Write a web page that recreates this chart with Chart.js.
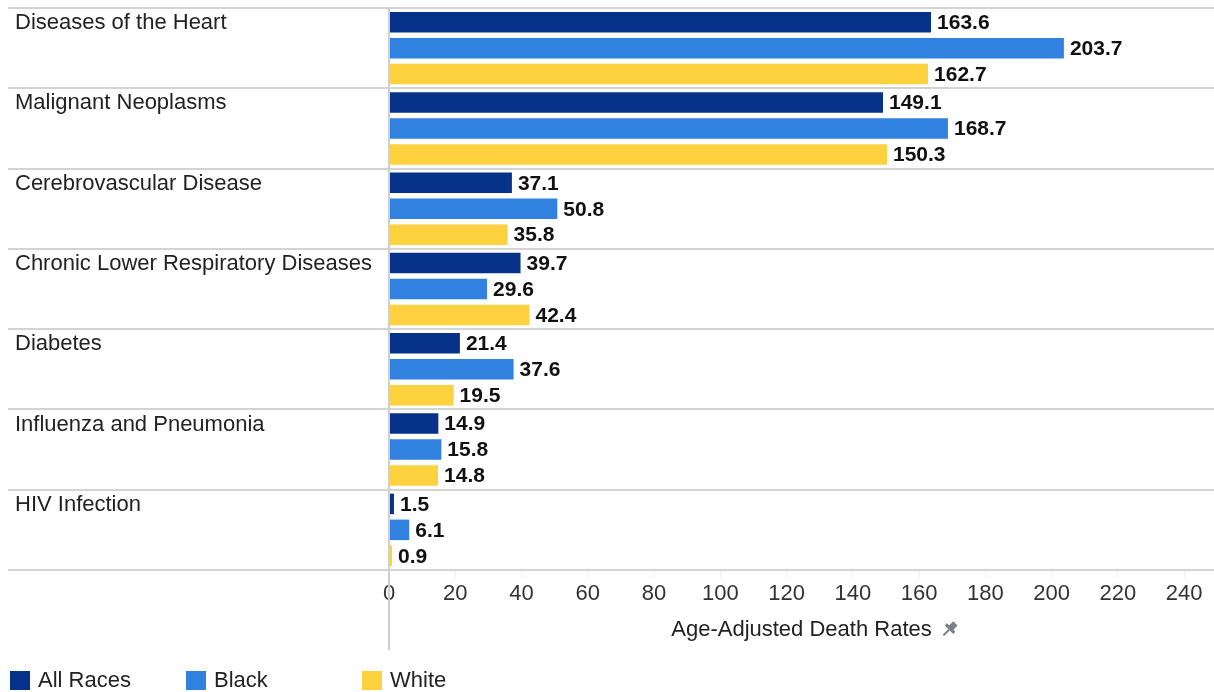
<!DOCTYPE html>
<html>
<head>
<meta charset="utf-8">
<script src="https://cdn.jsdelivr.net/npm/chart.js@4.4.0/dist/chart.umd.min.js"></script>
<style>
  html, body { margin: 0; padding: 0; background: #fff; }
  #wrap { position: relative; width: 1214px; height: 692px; }
  #legend {
    position: absolute; left: 10px; top: 667px;
    display: flex; font: 22px "Liberation Sans", Arial, sans-serif; color: #222;
  }
  .item { display: flex; align-items: center; }
  .swatch { width: 20px; height: 19px; margin-right: 8px; }
</style>
</head>
<body>
<div id="wrap">
  <canvas id="chart" width="1214" height="692"></canvas>
  <div id="legend"></div>
</div>
<script>
// categories and series
const causes = [
  "Diseases of the Heart",
  "Malignant Neoplasms",
  "Cerebrovascular Disease",
  "Chronic Lower Respiratory Diseases",
  "Diabetes",
  "Influenza and Pneumonia",
  "HIV Infection"
];
const allRaces = [163.6, 149.1, 37.1, 39.7, 21.4, 14.9, 1.5];
const black = [203.7, 168.7, 50.8, 29.6, 37.6, 15.8, 6.1];
const white = [162.7, 150.3, 35.8, 42.4, 19.5, 14.8, 0.9];
const seriesNames = ["All Races", "Black", "White"];
const seriesColors = ["#063289", "#3182e0", "#fdd23e"];
const xTickStep = 20;
const xMax = 249;
const axisTitle = "Age-Adjusted Death Rates";

const FONT = '"Liberation Sans", Arial, sans-serif';

// value labels to the right of each bar
const valueLabels = {
  id: "valueLabels",
  afterDatasetsDraw(chart) {
    const ctx = chart.ctx;
    ctx.save();
    ctx.font = "bold 21px " + FONT;
    ctx.fillStyle = "#111";
    ctx.textAlign = "left";
    ctx.textBaseline = "middle";
    chart.data.datasets.forEach((ds, i) => {
      chart.getDatasetMeta(i).data.forEach((bar, j) => {
        ctx.fillText(ds.data[j].toFixed(1), bar.x + 6, bar.y + 1);
      });
    });
    ctx.restore();
  }
};

// vertical baseline at 0 running down through the axis area, plus the pin next to the title
const axisExtras = {
  id: "axisExtras",
  afterDraw(chart) {
    const x = chart.scales.x;
    const px = Math.round(x.getPixelForValue(0));
    const ctx = chart.ctx;
    ctx.save();
    ctx.strokeStyle = "#cfcfcf";
    ctx.lineWidth = 2;
    ctx.beginPath();
    ctx.moveTo(px, chart.chartArea.top);
    ctx.lineTo(px, x.bottom);
    ctx.stroke();

    // little pin icon
    ctx.font = "22px " + FONT;
    const w = ctx.measureText(axisTitle).width;
    const cx = (x.left + x.right) / 2 + w / 2 + 18;
    const cy = x.bottom - 8 - 13;
    ctx.translate(cx, cy);
    ctx.rotate(Math.PI / 4);
    ctx.fillStyle = "#7a7f87";
    ctx.fillRect(-3, -8, 6, 7);
    ctx.fillRect(-6, -2, 12, 3);
    ctx.fillRect(-1, 1, 2, 8);
    ctx.restore();
  }
};

const chart = new Chart(document.getElementById("chart"), {
  type: "bar",
  data: {
    labels: causes,
    datasets: [allRaces, black, white].map((d, i) => ({
      label: seriesNames[i],
      data: d,
      backgroundColor: seriesColors[i],
      categoryPercentage: 0.97,
      barPercentage: 0.79
    }))
  },
  options: {
    indexAxis: "y",
    responsive: false,
    animation: false,
    layout: { padding: { top: 8, left: 15, right: 0, bottom: 42 } },
    plugins: {
      legend: { display: false },
      tooltip: { enabled: false }
    },
    scales: {
      x: {
        min: 0,
        max: xMax,
        afterBuildTicks: (s) => {
          s.ticks = s.ticks.filter((t) => t.value % xTickStep === 0);
        },
        afterFit: (s) => {
          s.height = 80;
          s.paddingLeft = 0;
          s.paddingRight = 0;
        },
        ticks: {
          stepSize: xTickStep,
          includeBounds: false,
          padding: 4,
          color: "#333",
          font: { family: FONT, size: 22 }
        },
        grid: { drawOnChartArea: false, tickLength: 7, color: "#eeeeee" },
        border: { display: false },
        title: {
          display: true,
          text: axisTitle,
          color: "#222",
          font: { family: FONT, size: 22 },
          padding: { top: 0, bottom: 7 }
        }
      },
      y: {
        afterFit: (s) => {
          s.width = 374;
          s.paddingTop = 0;
          s.paddingBottom = 0;
        },
        ticks: {
          crossAlign: "far",
          labelOffset: -25,
          color: "#222",
          font: { family: FONT, size: 22 }
        },
        grid: { color: "#d3d3d3", lineWidth: 2, tickLength: 381 },
        border: { display: false }
      }
    }
  },
  plugins: [valueLabels, axisExtras]
});

// legend below the chart
const legend = document.getElementById("legend");
seriesNames.forEach((name, i) => {
  const item = document.createElement("div");
  item.className = "item";
  item.style.width = "176px";
  item.innerHTML = '<span class="swatch" style="background:' + seriesColors[i] + '"></span>' + name;
  legend.appendChild(item);
});
</script>
</body>
</html>
